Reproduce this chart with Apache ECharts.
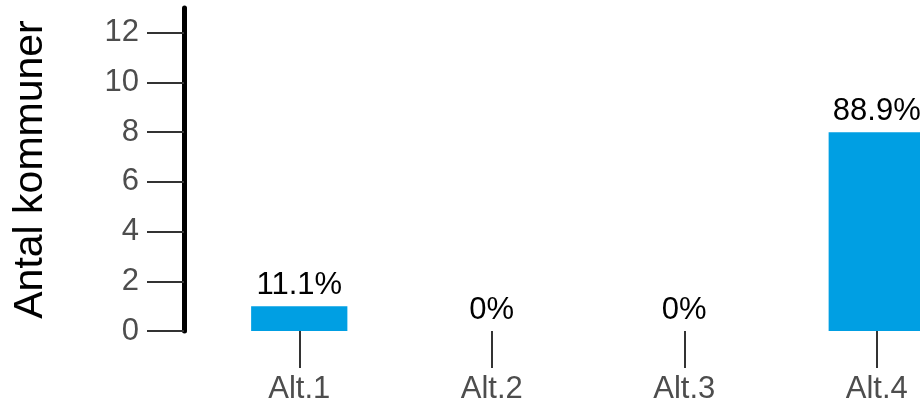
<!DOCTYPE html>
<html>
<head>
<meta charset="utf-8">
<script src="https://cdn.jsdelivr.net/npm/echarts@6/dist/echarts.min.js"></script>
<style>
  html, body { margin: 0; padding: 0; background: #ffffff; }
  #chart { width: 920px; height: 405px; }
</style>
</head>
<body>
<div id="chart"></div>
<script>
// Number of municipalities choosing each alternative
const categories = ['Alt.1', 'Alt.2', 'Alt.3', 'Alt.4'];
const counts = [1, 0, 0, 8];
const yTicks = [0, 2, 4, 6, 8, 10, 12];

const total = counts.reduce((a, b) => a + b, 0);
function shareLabel(v) {
  const pct = v / total * 100;
  return (Number.isInteger(pct) ? String(pct) : pct.toFixed(1)) + '%';
}

const chart = echarts.init(document.getElementById('chart'), null, { renderer: 'canvas' });
const font = '"Liberation Sans", Arial, sans-serif';

chart.setOption({
  animation: false,
  backgroundColor: '#ffffff',
  grid: { left: 203, top: 8, width: 770, bottom: 74, containLabel: false, outerBoundsMode: 'none' },
  xAxis: {
    type: 'category',
    data: categories,
    axisLine: { show: false },
    axisTick: { show: true, alignWithLabel: true, length: 37, lineStyle: { color: '#333333', width: 2 } },
    axisLabel: { margin: 43, color: '#4d4d4d', fontSize: 31, fontFamily: font }
  },
  yAxis: {
    type: 'value',
    min: 0,
    max: 13,
    offset: 19,
    name: 'Antal kommuner',
    nameLocation: 'middle',
    nameGap: 133,
    nameTextStyle: { color: '#000000', fontSize: 41, fontFamily: font },
    splitLine: { show: false },
    axisLine: { show: true, lineStyle: { color: '#000000', width: 5 } },
    axisTick: { show: true, length: 37, customValues: yTicks, lineStyle: { color: '#333333', width: 2 } },
    axisLabel: { margin: 45, customValues: yTicks, color: '#4d4d4d', fontSize: 31, fontFamily: font }
  },
  series: [{
    type: 'bar',
    data: counts,
    barWidth: '50%',
    itemStyle: { color: '#009FE3' },
    label: {
      show: true,
      position: 'top',
      distance: 5,
      color: '#000000',
      fontSize: 31,
      fontFamily: font,
      formatter: p => shareLabel(p.value)
    }
  }]
});
</script>
</body>
</html>
